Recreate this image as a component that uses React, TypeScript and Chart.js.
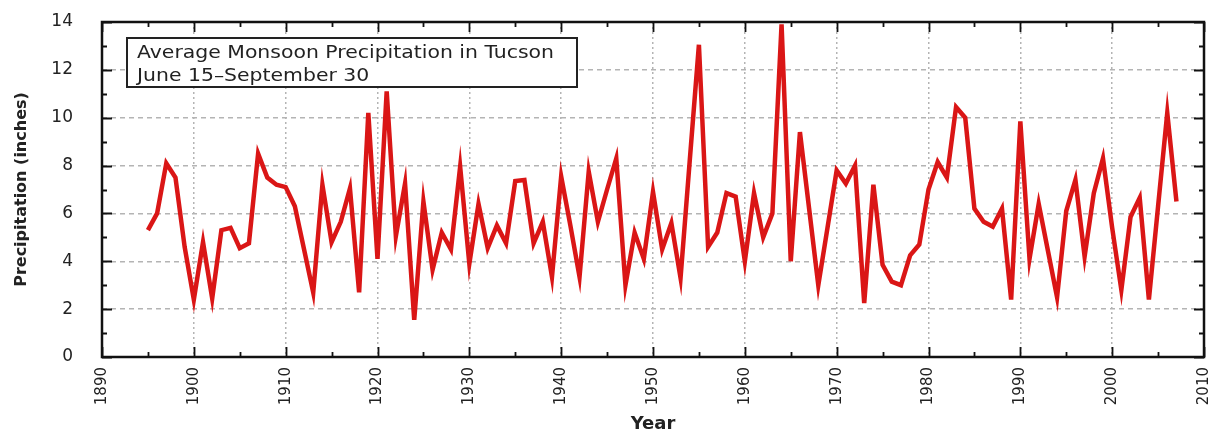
import React, { useEffect, useRef } from "react";
import { Chart, registerables } from "chart.js";

Chart.register(...registerables);

const years = [
  1895, 1896, 1897, 1898, 1899, 1900, 1901, 1902, 1903, 1904, 1905, 1906, 1907, 1908, 1909,
  1910, 1911, 1912, 1913, 1914, 1915, 1916, 1917, 1918, 1919, 1920, 1921, 1922, 1923, 1924,
  1925, 1926, 1927, 1928, 1929, 1930, 1931, 1932, 1933, 1934, 1935, 1936, 1937, 1938, 1939,
  1940, 1941, 1942, 1943, 1944, 1945, 1946, 1947, 1948, 1949, 1950, 1951, 1952, 1953, 1954,
  1955, 1956, 1957, 1958, 1959, 1960, 1961, 1962, 1963, 1964, 1965, 1966, 1967, 1968, 1969,
  1970, 1971, 1972, 1973, 1974, 1975, 1976, 1977, 1978, 1979, 1980, 1981, 1982, 1983, 1984,
  1985, 1986, 1987, 1988, 1989, 1990, 1991, 1992, 1993, 1994, 1995, 1996, 1997, 1998, 1999,
  2000, 2001, 2002, 2003, 2004, 2005, 2006, 2007,
];

const precipitation = [
  5.3, 6.0, 8.1, 7.5, 4.6, 2.4, 4.8, 2.45, 5.3, 5.4, 4.55, 4.75, 8.5, 7.5, 7.2,
  7.1, 6.3, 4.5, 2.7, 7.2, 4.8, 5.65, 7.05, 2.7, 10.2, 4.1, 11.1, 5.05, 7.25, 1.55,
  6.5, 3.65, 5.2, 4.5, 7.95, 3.9, 6.4, 4.55, 5.5, 4.75, 7.35, 7.4, 4.75, 5.65, 3.35,
  7.55, 5.5, 3.35, 7.75, 5.65, 7.0, 8.3, 3.0, 5.2, 4.1, 6.9, 4.5, 5.6, 3.3, 8.2,
  13.05, 4.6, 5.2, 6.85, 6.7, 4.0, 6.85, 5.0, 6.0, 13.9, 4.0, 9.4, 6.2, 3.0, 5.4,
  7.8, 7.25, 8.0, 2.25, 7.2, 3.85, 3.15, 3.0, 4.25, 4.7, 7.0, 8.15, 7.5, 10.45, 10.0,
  6.2, 5.65, 5.45, 6.2, 2.4, 9.85, 4.1, 6.4, 4.45, 2.5, 6.1, 7.4, 4.2, 6.85, 8.3,
  5.4, 2.8, 5.85, 6.65, 2.4, 6.3, 10.2, 6.5,
];

const legendLines = ["Average Monsoon Precipitation in Tucson", "June 15\u2013September 30"];
const xTitle = "Year";
const yTitle = "Precipitation (inches)";

const FONT = "'DejaVu Sans', sans-serif";

const framePlugin = {
  id: "frameAndBox",
  afterDraw(chart: any) {
    const { ctx, chartArea } = chart;
    const xs = chart.scales.x;
    const ys = chart.scales.y;
    const { left, right, top, bottom } = chartArea;
    ctx.save();
    ctx.strokeStyle = "#111";
    ctx.lineWidth = 1.8;
    ctx.beginPath();
    for (let v = 1890; v <= 2010; v += 5) {
      const x = Math.round(xs.getPixelForValue(v)) + 0.5;
      const len = v % 10 === 0 ? 10 : 5;
      ctx.moveTo(x, bottom);
      ctx.lineTo(x, bottom - len);
      ctx.moveTo(x, top);
      ctx.lineTo(x, top + len);
    }
    for (let v = 0; v <= 14; v += 1) {
      const y = Math.round(ys.getPixelForValue(v)) + 0.5;
      const len = v % 2 === 0 ? 10 : 5;
      ctx.moveTo(left, y);
      ctx.lineTo(left + len, y);
      ctx.moveTo(right, y);
      ctx.lineTo(right - len, y);
    }
    ctx.stroke();
    ctx.lineWidth = 2.5;
    ctx.strokeRect(left, top, right - left, bottom - top);

    // text box
    const bx = 127, by = 38, bw = 450, bh = 49;
    ctx.fillStyle = "#fff";
    ctx.fillRect(bx, by, bw, bh);
    ctx.lineWidth = 2;
    ctx.strokeStyle = "#222";
    ctx.strokeRect(bx, by, bw, bh);
    ctx.fillStyle = "#222";
    ctx.font = `17px ${FONT}`;
    ctx.textAlign = "left";
    ctx.textBaseline = "alphabetic";
    const w0 = ctx.measureText(legendLines[0]).width;
    const sx = 417 / w0;
    ctx.save();
    ctx.translate(137, 0);
    ctx.scale(sx, 1);
    ctx.fillText(legendLines[0], 0, 58);
    ctx.fillText(legendLines[1], 0, 81);
    ctx.restore();
    ctx.restore();
  },
};

export default function App() {
  const ref = useRef<HTMLCanvasElement>(null);
  useEffect(() => {
    if (!ref.current) return;
    const chart = new Chart(ref.current, {
      type: "line",
      data: {
        datasets: [
          {
            data: years.map((y, i) => ({ x: y, y: precipitation[i] })),
            borderColor: "rgb(218,22,22)",
            borderWidth: 4.5,
            pointRadius: 0,
            tension: 0,
            fill: false,
          },
        ],
      },
      options: {
        animation: false,
        responsive: false,
        maintainAspectRatio: false,
        layout: { padding: { top: 22, right: 14, left: 0, bottom: 0 } },
        plugins: { legend: { display: false }, tooltip: { enabled: false } },
        scales: {
          x: {
            type: "linear",
            min: 1890,
            max: 2010,
            ticks: {
              stepSize: 10,
              minRotation: 90,
              maxRotation: 90,
              padding: 10,
              color: "#222",
              font: { family: FONT, size: 15 },
              callback: (v: any) => String(v),
            },
            grid: { color: "#b4b4b4", lineWidth: 1.5, drawTicks: false },
            border: { display: false, dash: [2, 3] },
            title: {
              display: true,
              text: xTitle,
              color: "#222",
              font: { family: FONT, size: 18, weight: "bold" },
              padding: { top: 0, bottom: 0 },
            },
            afterFit: (s: any) => {
              s.height = 78;
              s.paddingLeft = 0;
              s.paddingRight = 0;
              s.paddingTop = 0;
              s.paddingBottom = 0;
            },
          },
          y: {
            min: 0,
            max: 14,
            ticks: {
              stepSize: 2,
              padding: 29,
              color: "#222",
              font: { family: FONT, size: 17 },
            },
            grid: { color: "#b4b4b4", lineWidth: 1.5, drawTicks: false },
            border: { display: false, dash: [5, 4] },
            title: {
              display: true,
              text: yTitle,
              color: "#222",
              font: { family: FONT, size: 16, weight: "bold" },
              padding: { top: 12, bottom: 0 },
            },
            afterFit: (s: any) => {
              s.width = 102;
              s.paddingLeft = 0;
              s.paddingRight = 0;
              s.paddingTop = 0;
              s.paddingBottom = 0;
            },
          },
        },
      },
      plugins: [framePlugin],
    });
    return () => chart.destroy();
  }, []);
  return (
    <div style={{ position: "absolute", left: 0, top: 0, width: 1218, height: 435, background: "#fff" }}>
      <canvas ref={ref} width={1218} height={435} style={{ width: 1218, height: 435, display: "block" }} />
    </div>
  );
}
